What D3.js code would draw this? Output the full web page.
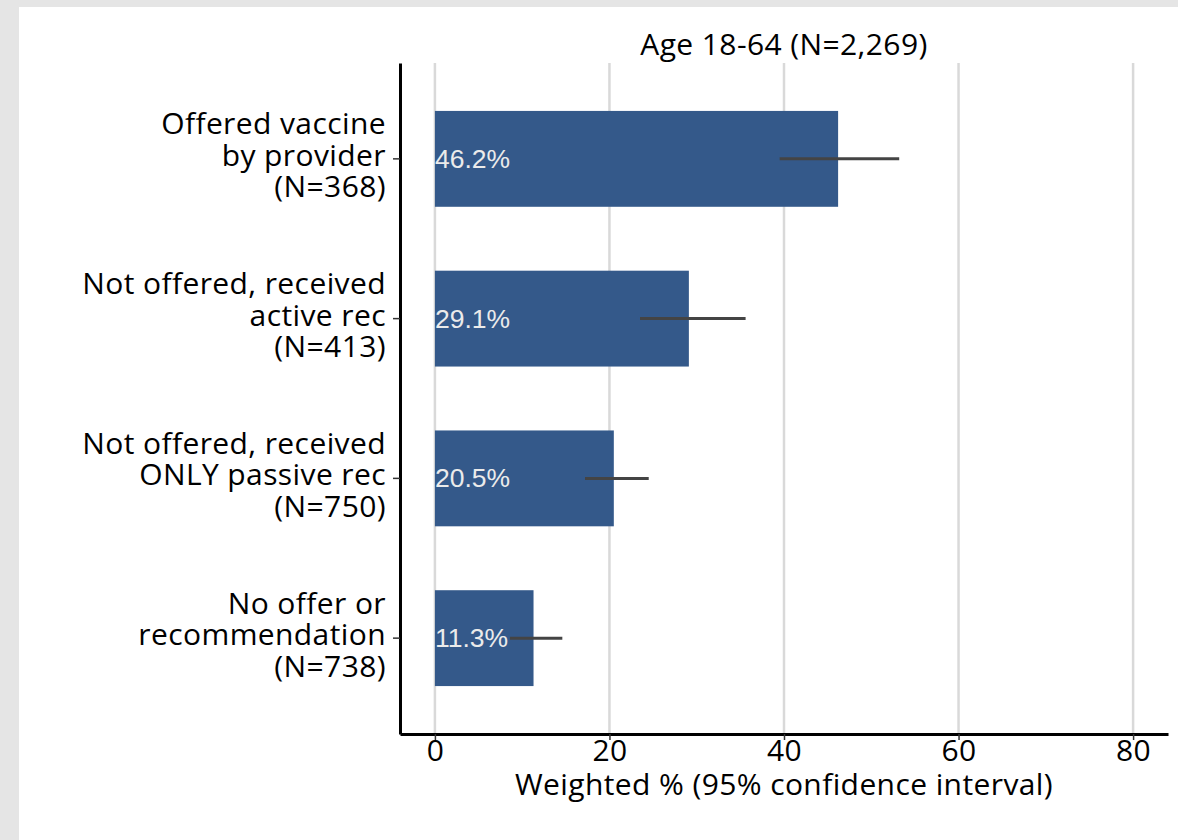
<!DOCTYPE html>
<html>
<head>
<meta charset="utf-8">
<script src="https://cdn.jsdelivr.net/npm/d3@7"></script>
<style>
  html, body { margin: 0; padding: 0; background: #e5e5e5; }
  svg { display: block; }
  text { font-family: "Open Sans", sans-serif; fill: #000; }
</style>
</head>
<body>
<svg id="chart" width="1178" height="840"></svg>
<script>
var title = "Age 18-64 (N=2,269)";
var xTitle = "Weighted % (95% confidence interval)";
var groups = [
  ["Offered vaccine", "by provider", "(N=368)"],
  ["Not offered, received", "active rec", "(N=413)"],
  ["Not offered, received", "ONLY passive rec", "(N=750)"],
  ["No offer or", "recommendation", "(N=738)"]
];
var percents = [46.2, 29.1, 20.5, 11.3];
var lowerCI = [39.5, 23.5, 17.2, 8.6];
var upperCI = [53.2, 35.6, 24.5, 14.6];
var xTicks = [0, 20, 40, 60, 80];

var svg = d3.select("#chart");
var FONT_SIZE = "30px";
var LETTER_SP = "0.4px";

// white panel on gray page
svg.append("rect")
  .attr("x", 19).attr("y", 7)
  .attr("width", 1178 - 19).attr("height", 840 - 7)
  .attr("fill", "#fff");

var plotLeft = 400, plotRight = 1168, plotTop = 63, plotBottom = 734;

var x = d3.scaleLinear().domain([-4, 84]).range([plotLeft, plotRight]);
var y = d3.scaleBand()
  .domain(d3.range(groups.length))
  .range([plotTop, plotBottom])
  .paddingInner(0.4)
  .paddingOuter(0.3);

// gridlines
svg.append("g").selectAll("line")
  .data(xTicks).enter().append("line")
  .attr("x1", function (d) {return x(d);})
  .attr("x2", function (d) {return x(d);})
  .attr("y1", plotTop).attr("y2", plotBottom)
  .attr("stroke", "#d9d9d9")
  .attr("stroke-width", 2.5);

var data = percents.map(function (v, i) {
  return {i: i, v: v, lo: lowerCI[i], hi: upperCI[i]};
});

svg.append("g").selectAll("rect")
  .data(data).enter().append("rect")
  .attr("x", x(0))
  .attr("y", function (d) {return y(d.i);})
  .attr("width", function (d) {return x(d.v) - x(0);})
  .attr("height", y.bandwidth())
  .attr("fill", "#34598a");

svg.append("g").selectAll("line")
  .data(data).enter().append("line")
  .attr("x1", function (d) {return x(d.lo);})
  .attr("x2", function (d) {return x(d.hi);})
  .attr("y1", function (d) {return y(d.i) + y.bandwidth() / 2;})
  .attr("y2", function (d) {return y(d.i) + y.bandwidth() / 2;})
  .attr("stroke", "#444")
  .attr("stroke-width", 3);

svg.append("g").selectAll("text")
  .data(data).enter().append("text")
  .attr("x", x(0))
  .attr("y", function (d) {return y(d.i) + y.bandwidth() / 2 + 9;})
  .style("font-family", "Arial, 'Liberation Sans', sans-serif")
  .style("font-size", "26.5px")
  .style("fill", "#ebebeb")
  .text(function (d) {return d.v.toFixed(1) + "%";});

// x axis
var xAxis = svg.append("g")
  .attr("transform", "translate(0," + plotBottom + ")")
  .call(d3.axisBottom(x).tickValues(xTicks).tickSize(6).tickPadding(0).tickSizeOuter(0));
xAxis.select(".domain").attr("stroke", "#000").attr("stroke-width", 3);
xAxis.selectAll(".tick line").attr("stroke", "#333").attr("stroke-width", 1.5);
xAxis.selectAll(".tick text")
  .style("font-family", "'Open Sans', sans-serif")
  .style("font-size", FONT_SIZE)
  .style("letter-spacing", LETTER_SP)
  .attr("fill", "#000");

// y axis
var yAxis = svg.append("g")
  .attr("transform", "translate(" + plotLeft + ",0)")
  .call(d3.axisLeft(y).tickSize(7).tickSizeOuter(0).tickFormat(""));
yAxis.select(".domain").attr("stroke", "#000").attr("stroke-width", 3);
yAxis.selectAll(".tick line").attr("stroke", "#333").attr("stroke-width", 1.5);

var ylab = svg.append("g").selectAll("text")
  .data(groups).enter().append("text")
  .attr("text-anchor", "end")
  .style("font-size", FONT_SIZE)
  .style("letter-spacing", LETTER_SP)
  .attr("y", function (d, i) {return y(i) + y.bandwidth() / 2 + 7;});
ylab.selectAll("tspan")
  .data(function (d) {return d;}).enter().append("tspan")
  .attr("x", 386)
  .attr("dy", function (d, j) {return j === 0 ? "-31.5" : "31.5";})
  .text(function (d) {return d;});

svg.append("text")
  .attr("x", (plotLeft + plotRight) / 2)
  .attr("y", 55)
  .attr("text-anchor", "middle")
  .style("font-size", FONT_SIZE)
  .style("letter-spacing", LETTER_SP)
  .text(title);

svg.append("text")
  .attr("x", (plotLeft + plotRight) / 2)
  .attr("y", 795)
  .attr("text-anchor", "middle")
  .style("font-size", FONT_SIZE)
  .style("letter-spacing", LETTER_SP)
  .text(xTitle);
</script>
</body>
</html>
